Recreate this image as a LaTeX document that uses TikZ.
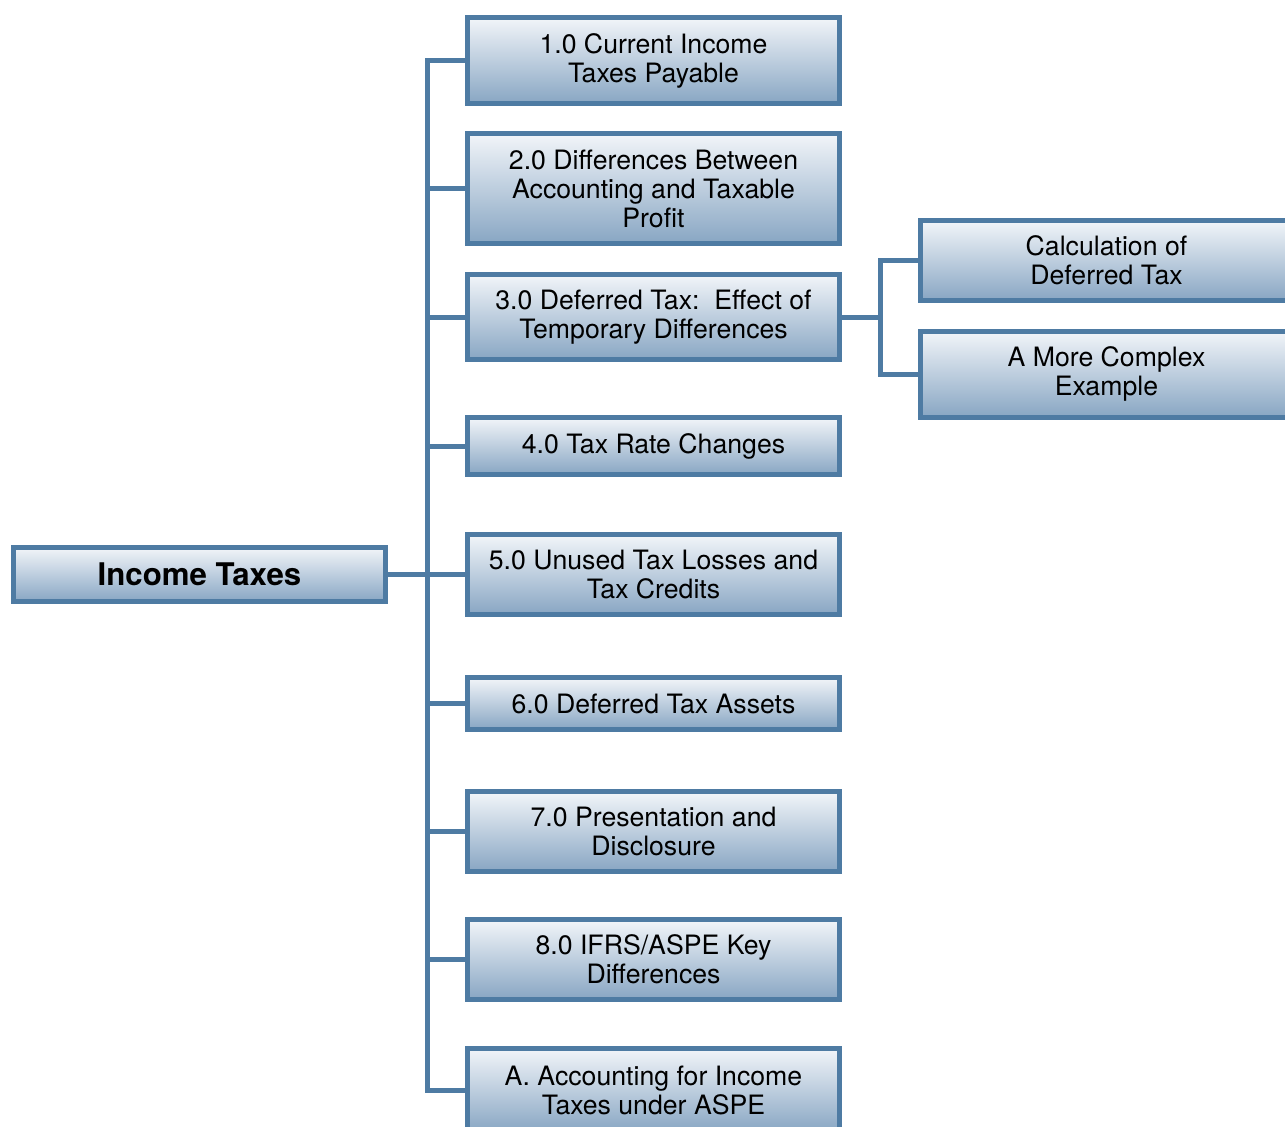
\documentclass[tikz,border=0pt]{standalone}
\usepackage{fontspec}
\setmainfont{TeX Gyre Heros}
\definecolor{boxline}{HTML}{4E7BA3}
\definecolor{boxtop}{HTML}{F2F5F9}
\definecolor{boxbottom}{HTML}{88A6C3}
\tikzset{
  topic/.style={draw=boxline, line width=3.75pt, top color=boxtop, bottom color=boxbottom,
    minimum width=279pt, inner sep=0pt, align=center,
    font=\fontsize{20}{21.75}\selectfont},
  rootbox/.style={topic, font=\fontsize{23.4}{26}\selectfont\bfseries},
  link/.style={draw=boxline, line width=3.75pt}
}
\begin{document}
\begin{tikzpicture}[x=0.75pt,y=-0.75pt]
	\useasboundingbox (0,0) rectangle (1285,1127);
	% root
		\node[rootbox, minimum height=40.5pt] (root) at (199.5,574.5) {Income Taxes};
	% chapter topics
		\foreach \n/\y/\h/\txt in {
			t1/60.5/64.5/{1.0 Current Income\\Taxes Payable},
			t2/188.5/82.5/{2.0 Differences Between\\Accounting and Taxable\\Profit},
			t3/317/63.75/{3.0 Deferred Tax:\ \ Effect of\\Temporary Differences},
			t4/446/42.75/{4.0 Tax Rate Changes},
			t5/574.5/60/{5.0 Unused Tax Losses and\\Tax Credits},
			t6/703.5/39/{6.0 Deferred Tax Assets},
			t7/831.5/60/{7.0 Presentation and\\Disclosure},
			t8/959.5/60/{8.0 IFRS/ASPE Key\\Differences},
			t9/1090/63/{A. Accounting for Income\\Taxes under ASPE}}{
			\node[topic, minimum height=\h pt] (\n) at (653.5,\y) {\txt};
			}
	% sub topics of 3.0
		\node[topic, minimum height=60pt] (s1) at (1106.5,260.5) {Calculation of\\Deferred Tax};
		\node[topic, minimum height=64.5pt] (s2) at (1106.5,374) {A More Complex\\Example};
	% spine
		\coordinate (spine) at (427,574.5);
		\draw[link] (root.east) -- (t5.west);
		\foreach \n in {t1,t2,t3,t4,t6,t7,t8,t9}{
			\draw[link] (\n.west) -| (spine);
			}
	% fork
		\coordinate (fork) at (880,317);
		\draw[link] (t3.east) -- (fork);
		\foreach \n in {s1,s2}{
			\draw[link] (\n.west) -| (fork);
			}
\end{tikzpicture}
\end{document}
